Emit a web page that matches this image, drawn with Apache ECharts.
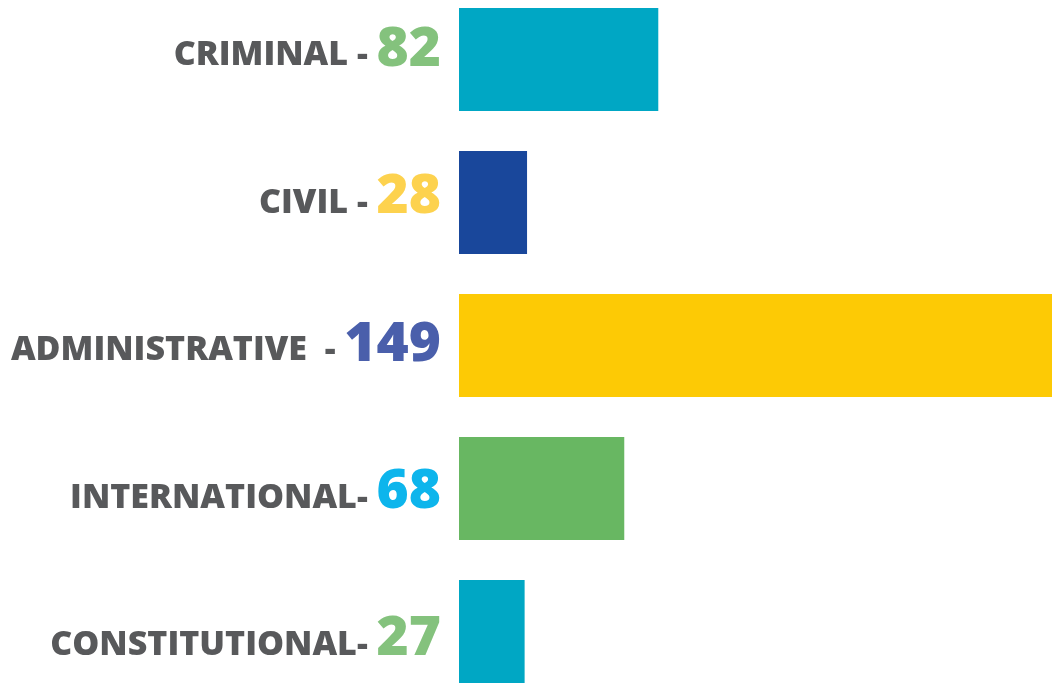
<!DOCTYPE html>
<html>
<head>
<meta charset="utf-8">
<script src="https://cdn.jsdelivr.net/npm/echarts@6/dist/echarts.min.js"></script>
<style>
    html, body { margin: 0; padding: 0; background: #ffffff; }
    #chart { width: 1052px; height: 683px; }
</style>
</head>
<body>
<div id="chart"></div>
<script>
    // categories and the numbers printed next to them
    var categories = ["CRIMINAL - ", "CIVIL - ", "ADMINISTRATIVE  - ", "INTERNATIONAL- ", "CONSTITUTIONAL- "];
    var labelValues = [82, 28, 149, 68, 27];
    // bar lengths as drawn (the administrative bar runs off the right edge)
    var barValues = [82, 28, 244, 68, 27];

    var barColors = ["#00a7c4", "#19479b", "#fdca05", "#68b762", "#00a7c4"];
    var numberColors = ["#84c27d", "#fdd24e", "#4a5fab", "#0db5ec", "#84c27d"];

    var rich = {
        n: {
            fontFamily: "Open Sans",
            fontWeight: 800,
            fontSize: 34,
            color: "#58595b",
            lineHeight: 60,
            verticalAlign: "bottom",
            padding: [0, 0, 5, 0]
        }
    };
    numberColors.forEach(function (c, i) {
        rich["v" + i] = {
            fontFamily: "Open Sans",
            fontWeight: 800,
            fontSize: 55,
            color: c,
            lineHeight: 60,
            verticalAlign: "bottom"
        };
    });

    var chart = echarts.init(document.getElementById("chart"));
    chart.setOption({
        animation: false,
        grid: [
            { left: 459, right: 0, top: -12, height: 715, outerBoundsMode: "none" },
            // labels sit on a slightly wider step than the bars
            { left: 459, right: 0, top: -26, height: 737, outerBoundsMode: "none" }
        ],
        xAxis: [
            { gridIndex: 0, type: "value", min: 0, max: 244, show: false },
            { gridIndex: 1, type: "value", min: 0, max: 244, show: false }
        ],
        yAxis: [
            {
                gridIndex: 0, type: "category", inverse: true, data: categories,
                axisLine: { show: false }, axisTick: { show: false }, axisLabel: { show: false }
            },
            {
                gridIndex: 1, type: "category", inverse: true, data: categories,
                axisLine: { show: false }, axisTick: { show: false },
                axisLabel: {
                    margin: 18,
                    rich: rich,
                    formatter: function (value, index) {
                        return "{n|" + value + "}{v" + index + "|" + labelValues[index] + "}";
                    }
                }
            }
        ],
        series: [{
            type: "bar",
            xAxisIndex: 0,
            yAxisIndex: 0,
            barWidth: 103,
            data: barValues.map(function (v, i) {
                return { value: v, itemStyle: { color: barColors[i] } };
            })
        }]
    });
</script>
</body>
</html>
